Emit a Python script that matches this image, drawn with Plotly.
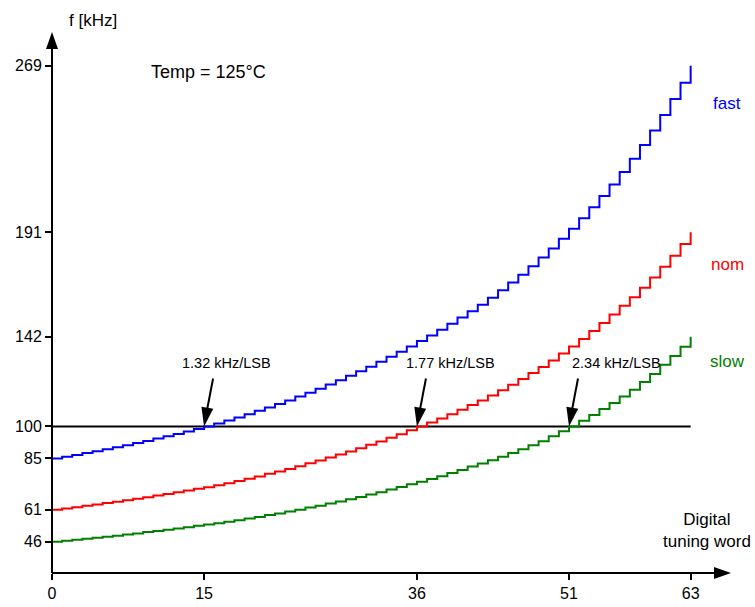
import plotly.graph_objects as go

# Digital tuning word (LSB codes) and oscillator frequency in kHz per process corner
codes = list(range(64))

f_fast = [85.0, 85.8, 86.6, 87.5, 88.4, 89.3, 90.2, 91.2, 92.2, 93.2,
          94.3, 95.4, 96.5, 97.6, 98.8, 100.0, 101.4, 102.8, 104.2, 105.7,
          107.3, 108.9, 110.5, 112.2, 114.0, 115.8, 117.7, 119.6, 121.6, 123.7,
          125.8, 128.0, 130.3, 132.6, 135.0, 137.5, 140.0, 142.6, 145.3, 148.1,
          151.0, 154.0, 157.0, 160.3, 163.8, 167.4, 171.1, 175.0, 179.1, 183.4,
          187.9, 192.6, 197.5, 202.7, 208.0, 213.4, 219.2, 225.4, 231.9, 238.7,
          245.9, 253.4, 261.0, 269.0]

f_nom = [61.0, 61.6, 62.1, 62.8, 63.4, 64.1, 64.7, 65.4, 66.1, 66.8,
         67.6, 68.4, 69.2, 70.0, 70.8, 71.5, 72.4, 73.4, 74.4, 75.5,
         76.6, 77.8, 78.9, 80.1, 81.4, 82.7, 84.0, 85.4, 86.8, 88.3,
         89.8, 91.4, 93.0, 94.7, 96.4, 98.2, 100.0, 101.8, 103.7, 105.7,
         107.8, 110.0, 112.1, 114.5, 117.0, 119.5, 122.2, 125.0, 127.9, 130.9,
         134.2, 137.5, 141.0, 144.7, 148.5, 152.4, 156.5, 160.5, 165.0, 169.8,
         174.8, 180.0, 185.5, 191.0]

f_slow = [46.0, 46.4, 46.9, 47.4, 47.8, 48.3, 48.8, 49.4, 49.9, 50.5,
          51.0, 51.6, 52.2, 52.8, 53.5, 54.1, 54.7, 55.4, 56.1, 56.9,
          57.6, 58.5, 59.2, 60.1, 61.0, 62.0, 62.9, 63.9, 64.8, 65.9,
          66.9, 68.1, 69.2, 70.4, 71.6, 72.9, 74.1, 75.4, 76.7, 78.2,
          79.6, 81.2, 82.6, 84.2, 85.8, 87.6, 89.3, 91.2, 93.1, 95.4,
          97.7, 100.0, 102.7, 105.4, 108.2, 111.0, 114.0, 117.2, 120.8, 124.6,
          128.9, 133.0, 137.3, 142.0]

f_target = 100
x_ticks = [0, 15, 36, 51, 63]
y_ticks = [46, 61, 85, 100, 142, 191, 269]

corner_names = ["fast", "nom", "slow"]
corner_colors = ["#0000ff", "#ff0000", "#008000"]

# codes where each corner reaches the 100 kHz target, with the local step size
slope_codes = [15, 36, 51]
slope_labels = ["1.32 kHz/LSB", "1.77 kHz/LSB", "2.34 kHz/LSB"]
slope_label_dx = [22, 34, 47]

FONT = "Liberation Sans, Arial, sans-serif"

fig = go.Figure()

# 100 kHz target line
fig.add_trace(go.Scatter(
    x=[codes[0], codes[-1]], y=[f_target, f_target], mode="lines",
    line=dict(color="black", width=2), hoverinfo="skip"))

for vals, color in zip([f_fast, f_nom, f_slow], corner_colors):
    fig.add_trace(go.Scatter(
        x=codes, y=vals, mode="lines", line_shape="hv",
        line=dict(color=color, width=2)))

shapes = []
# axis lines with arrowheads
shapes.append(dict(type="line", xref="paper", yref="paper", x0=0, x1=0,
                   y0=0, y1=0.985, line=dict(color="black", width=2)))
shapes.append(dict(type="line", xref="paper", yref="paper", x0=0, x1=0.988,
                   y0=0, y1=0, line=dict(color="black", width=2)))
shapes.append(dict(type="path", xref="paper", yref="paper",
                   xsizemode="pixel", ysizemode="pixel", xanchor=0, yanchor=1,
                   path="M0,0 L-6,-17 L6,-17 Z", fillcolor="black",
                   line=dict(width=0)))
shapes.append(dict(type="path", xref="paper", yref="paper",
                   xsizemode="pixel", ysizemode="pixel", xanchor=1, yanchor=0,
                   path="M0,0 L-17,6 L-17,-6 Z", fillcolor="black",
                   line=dict(width=0)))

annotations = []
for code, label, dx in zip(slope_codes, slope_labels, slope_label_dx):
    shapes.append(dict(type="line", xref="x", yref="y",
                       xsizemode="pixel", ysizemode="pixel",
                       xanchor=code, yanchor=f_target,
                       x0=2.5, y0=14, x1=9, y1=48,
                       line=dict(color="black", width=2)))
    shapes.append(dict(type="path", xref="x", yref="y",
                       xsizemode="pixel", ysizemode="pixel",
                       xanchor=code, yanchor=f_target,
                       path="M0,0 L9.2,17.7 L-2.6,19.7 Z", fillcolor="black",
                       line=dict(width=0)))
    annotations.append(dict(x=code, y=f_target, xref="x", yref="y",
                            text=label, showarrow=False, xshift=dx, yshift=63,
                            xanchor="center", yanchor="middle",
                            font=dict(size=14.5, family=FONT, color="black")))


def note(text, x, y, size=17, color="black"):
    return dict(x=x, y=y, xref="paper", yref="paper", text=text,
                showarrow=False, xanchor="center", yanchor="middle",
                font=dict(size=size, family=FONT, color=color))


# corner names at the right end of each curve
for name, color, ypos in zip(corner_names, corner_colors, [0.868, 0.571, 0.391]):
    annotations.append(note(name, 0.9946, ypos, color=color))

annotations.append(note("Temp = 125°C", 0.2312, 0.9266, size=18))
annotations.append(note("f [kHz]", 0.0601, 1.0207))
annotations.append(note("Digital<br>tuning word", 0.9647, 0.0789))

fig.update_layout(
    width=755, height=607,
    margin=dict(l=52, r=24, t=32, b=34, autoexpand=False),
    paper_bgcolor="white", plot_bgcolor="white",
    showlegend=False,
    font=dict(family=FONT, color="black"),
    shapes=shapes, annotations=annotations,
    xaxis=dict(range=[0, 66.98], tickvals=x_ticks, ticks="outside",
               ticklen=6, tickwidth=1.5, tickcolor="black", automargin=False,
               showgrid=False, zeroline=False, showline=False,
               tickfont=dict(size=16, family=FONT, color="black")),
    yaxis=dict(range=[31.34, 284.79], tickvals=y_ticks, ticks="outside",
               ticklen=6, tickwidth=1.5, tickcolor="black", automargin=False,
               showgrid=False, zeroline=False, showline=False,
               tickfont=dict(size=16, family=FONT, color="black")),
)

fig.write_html("out.html")
